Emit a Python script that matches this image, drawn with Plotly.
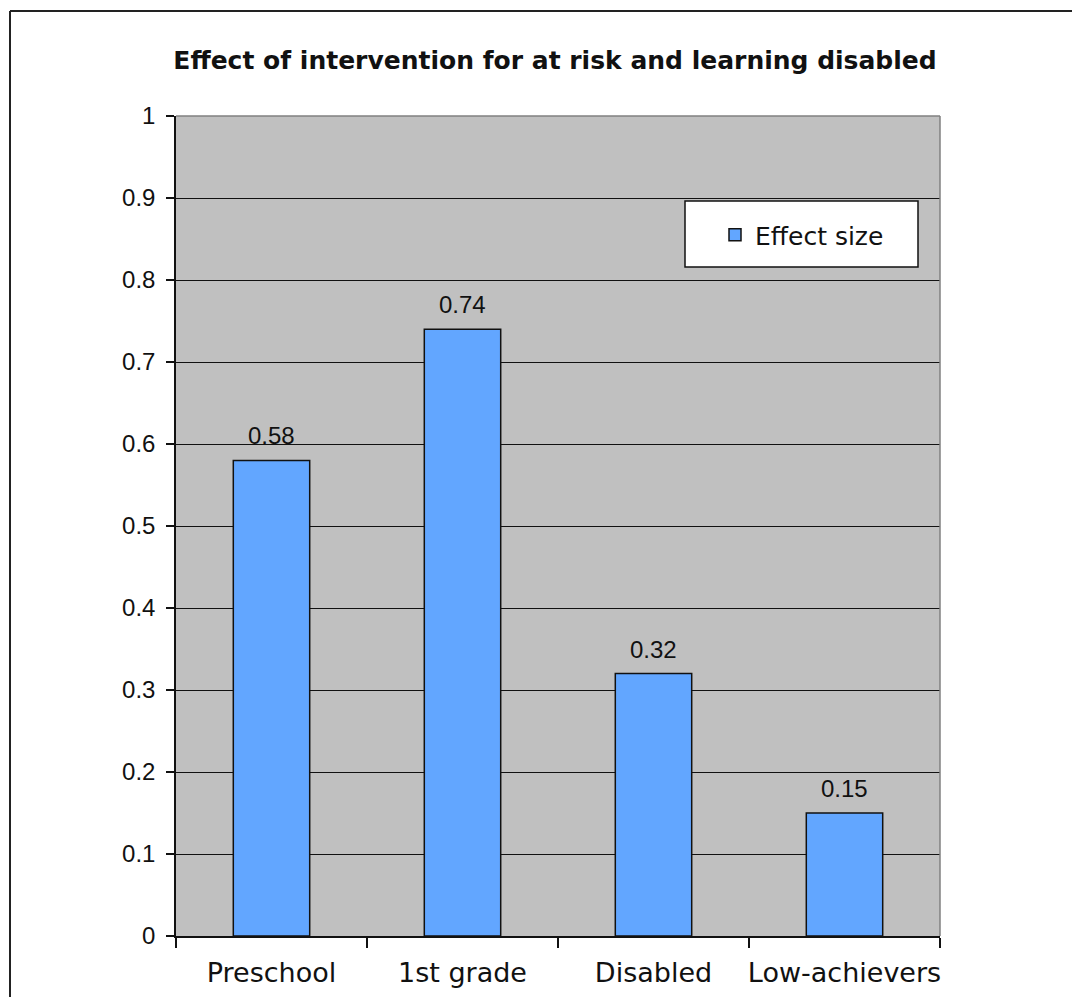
import plotly.graph_objects as go

categories = ["Preschool", "1st grade", "Disabled", "Low-achievers"]
effect_size = [0.58, 0.74, 0.32, 0.15]
y_ticks = [0, 0.1, 0.2, 0.3, 0.4, 0.5, 0.6, 0.7, 0.8, 0.9, 1]
y_tick_labels = ["0", "0.1", "0.2", "0.3", "0.4", "0.5", "0.6", "0.7", "0.8", "0.9", "1"]

W, H = 1072, 997
L, R, T, B = 176, 940, 116, 936  # plot-area pixel edges


def px_x(x):
    return (x - L) / (R - L)


def px_y(y):
    return (B - y) / (B - T)


GEO = "DejaVu Sans"
ARIAL = "Liberation Sans, Arial"

fig = go.Figure()
fig.add_trace(go.Bar(
    x=categories, y=effect_size, name="Effect size",
    marker=dict(color="#62A6FF", line=dict(color="#111111", width=1.5)),
    width=0.4,
))

# value labels above each bar
for c, v in zip(categories, effect_size):
    fig.add_annotation(x=c, y=v, text=f"{v:g}", showarrow=False,
                       yanchor="bottom", yshift=9,
                       font=dict(family=ARIAL, size=24, color="#111111"))

shapes = [
    # grey top / right border of plot area
    dict(type="line", xref="paper", yref="paper", x0=0, x1=1, y0=1, y1=1,
         line=dict(color="#808080", width=1.5), layer="above"),
    dict(type="line", xref="paper", yref="paper", x0=1, x1=1, y0=0, y1=1,
         line=dict(color="#808080", width=1.5), layer="above"),
    # legend box
    dict(type="rect", xref="paper", yref="paper",
         x0=px_x(685), x1=px_x(918), y0=px_y(267), y1=px_y(201),
         fillcolor="white", line=dict(color="#111111", width=1.5), layer="above"),
    # outer frame
    dict(type="line", xref="paper", yref="paper",
         x0=px_x(10), x1=px_x(1080), y0=px_y(11), y1=px_y(11),
         line=dict(color="#222222", width=2)),
    dict(type="line", xref="paper", yref="paper",
         x0=px_x(10), x1=px_x(10), y0=px_y(11), y1=px_y(1005),
         line=dict(color="#222222", width=2)),
]

fig.update_layout(
    width=W, height=H,
    margin=dict(l=L, r=W - R, t=T, b=H - B),
    paper_bgcolor="white", plot_bgcolor="#C0C0C0",
    title=dict(text="<b>Effect of intervention for at risk and learning disabled</b>",
               x=px_x(555), xanchor="center", xref="paper",
               y=1 - 60 / H, yanchor="middle",
               font=dict(family=GEO, size=25, color="#111111")),
    bargap=0.6,
    showlegend=True,
    legend=dict(x=px_x(715), y=px_y(235), xanchor="left", yanchor="middle",
                bgcolor="rgba(0,0,0,0)", borderwidth=0,
                font=dict(family=GEO, size=25, color="#111111"),
                itemwidth=30),
    shapes=shapes,
    xaxis=dict(type="category", showline=True, linecolor="#111111", linewidth=1.5,
               ticks="outside", tickson="boundaries", ticklen=10, tickwidth=1.5,
               tickcolor="#111111", showgrid=False, tickangle=0, automargin=False,
               tickfont=dict(family=GEO, size=27, color="#111111"),
               ticklabelstandoff=12,
               range=[-0.5, 3.5]),
    yaxis=dict(range=[0, 1], tickvals=y_ticks, ticktext=y_tick_labels,
               showline=True, linecolor="#111111", linewidth=1.5,
               ticks="outside", ticklen=8, tickwidth=1.5, tickcolor="#111111",
               showgrid=True, gridcolor="#111111", gridwidth=1, automargin=False,
               zeroline=False, ticklabelstandoff=6,
               tickfont=dict(family=ARIAL, size=24, color="#111111")),
)

fig.write_html("out.html")
